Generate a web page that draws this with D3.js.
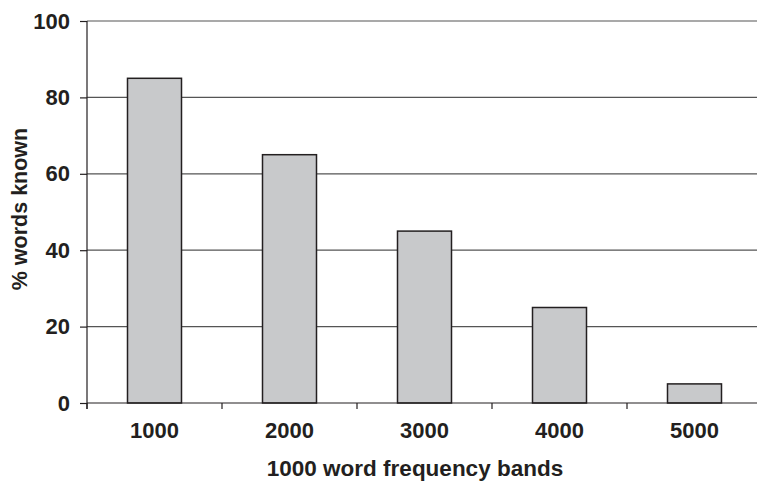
<!DOCTYPE html>
<html><head><meta charset="utf-8">
<script src="https://cdn.jsdelivr.net/npm/d3@7"></script>
<style>
html,body{margin:0;padding:0;background:#fff;}
svg{display:block;}
text{font-family:"Liberation Sans",Arial,sans-serif;font-weight:bold;fill:#231f20;}
</style></head>
<body>
<svg id="chart" width="757" height="482"></svg>
<script>
const categories = ["1000","2000","3000","4000","5000"];
const values = [85, 65, 45, 25, 5];
const yTicks = [0, 20, 40, 60, 80, 100];
const xTitle = "1000 word frequency bands";
const yTitle = "% words known";

const svg = d3.select("#chart");
const mLeft = 87, mTop = 21, mBottom = 403, plotW = 675;
const x = d3.scaleBand().domain(categories).range([mLeft, mLeft + plotW]).paddingInner(0.6).paddingOuter(0.3);
const xb = d3.scaleBand().domain(categories).range([mLeft, mLeft + plotW]);
const y = d3.scaleLinear().domain([0, 100]).range([mBottom, mTop]);

// gridlines
svg.append("g").selectAll("line").data(yTicks.filter(d => d > 0)).join("line")
  .attr("x1", mLeft).attr("x2", mLeft + plotW)
  .attr("y1", d => y(d)).attr("y2", d => y(d))
  .attr("stroke", "#555").attr("stroke-width", 1.2);

// bars
svg.append("g").selectAll("rect").data(values).join("rect")
  .attr("x", (d, i) => x(categories[i]))
  .attr("width", x.bandwidth())
  .attr("y", d => y(d))
  .attr("height", d => y(0) - y(d))
  .attr("fill", "#c8c9cb").attr("stroke", "#231f20").attr("stroke-width", 1.5);

// y axis
const yAxis = d3.axisLeft(y).tickValues(yTicks).tickSize(7).tickPadding(10);
const gy = svg.append("g").attr("transform", `translate(${mLeft},0)`).call(yAxis);
gy.attr("font-family", null).attr("font-size", null);
gy.select(".domain").attr("d", `M0,${mTop}V${mBottom + 6}`).attr("stroke", "#231f20").attr("stroke-width", 1.2);
gy.selectAll(".tick line").attr("stroke", "#231f20").attr("stroke-width", 1.2);
gy.selectAll(".tick text").style("font-size", "22px").attr("fill", "#231f20");

// x axis
const xAxis = d3.axisBottom(xb).tickSize(0).tickPadding(19);
const gx = svg.append("g").attr("transform", `translate(0,${mBottom})`).call(xAxis);
gx.attr("font-family", null).attr("font-size", null);
gx.select(".domain").attr("d", `M${mLeft},0H${mLeft + plotW}`).attr("stroke", "#231f20").attr("stroke-width", 1.2);
gx.selectAll(".tick text").style("font-size", "22px").attr("fill", "#231f20");
// boundary ticks
svg.append("g").selectAll("line").data(categories).join("line")
  .attr("x1", d => xb(d)).attr("x2", d => xb(d))
  .attr("y1", mBottom).attr("y2", mBottom + 6)
  .attr("stroke", "#231f20").attr("stroke-width", 1.2);

// titles
svg.append("text").attr("x", 415).attr("y", 476).attr("text-anchor", "middle")
  .style("font-size", "22.5px").text(xTitle);
svg.append("text").attr("transform", "translate(27,209) rotate(-90)").attr("text-anchor", "middle")
  .style("font-size", "21.5px").text(yTitle);
</script>
</body></html>
